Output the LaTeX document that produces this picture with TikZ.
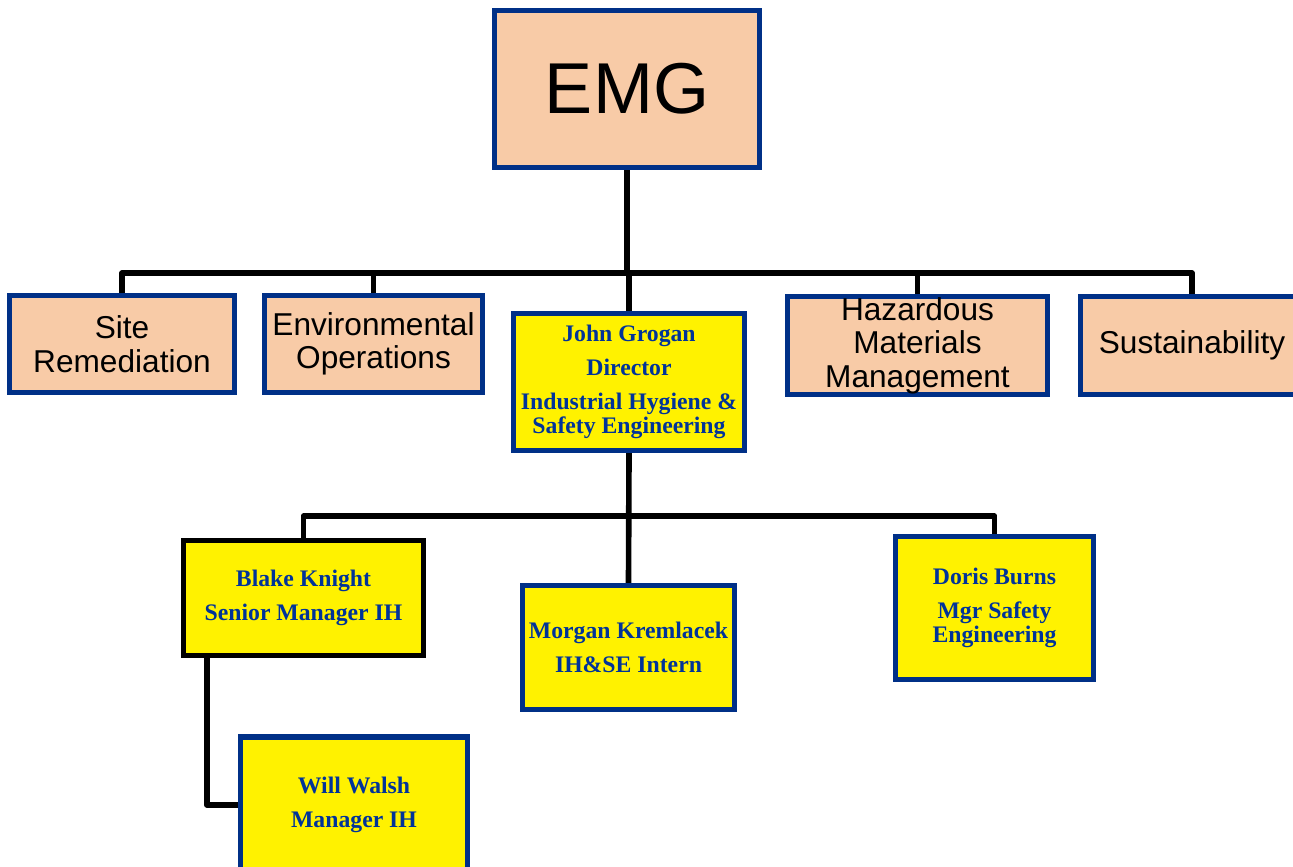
\documentclass[tikz,border=0pt]{standalone}
\usepackage{fontspec}
\setmainfont{Liberation Serif}
\newfontfamily\arialfont{Liberation Sans}
\definecolor{peach}{RGB}{248,203,167}
\definecolor{boxblue}{RGB}{0,48,135}
\definecolor{namblue}{RGB}{0,51,153}
\tikzset{
  unitbox/.style={draw=boxblue, line width=3pt, fill=peach, align=center, inner sep=0pt,
    font=\arialfont\fontsize{18}{19}\selectfont},
  staffbox/.style={draw=boxblue, line width=3pt, fill=yellow, align=center, inner sep=0pt,
    text=namblue, font=\bfseries\fontsize{13.5}{13.6}\selectfont},
  link/.style={line width=3.2pt, line join=round}
}
\begin{document}
\begin{tikzpicture}[x=0.02cm, y=-0.02cm]
\useasboundingbox (0,0) rectangle (1293,866);

% Top level and departments
\node[unitbox, minimum width=5.3cm, minimum height=3.14cm, font=\arialfont\fontsize{41}{44}\selectfont] (emg) at (627,89) {EMG};
\node[unitbox, minimum width=4.5cm, minimum height=1.94cm] (site) at (122,344) {Site\\Remediation};
\node[unitbox, minimum width=4.36cm, minimum height=1.94cm] (env) at (373.5,344) {Environmental\\Operations};
\node[staffbox, minimum width=4.62cm, minimum height=2.74cm] (john) at (629,382) {John Grogan\\[5.7pt]Director\\[5.7pt]Industrial Hygiene \&\\Safety Engineering};
\node[unitbox, minimum width=5.2cm, minimum height=1.96cm] (haz) at (917.5,345.5) {Hazardous\\Materials\\Management};
\node[unitbox, minimum width=4.46cm, minimum height=1.96cm] (sust) at (1192,345.5) {Sustainability};

% Staff under the director
\node[staffbox, draw=black, minimum width=4.8cm, minimum height=2.3cm] (blake) at (303.5,598) {Blake Knight\\[5.7pt]Senior Manager IH};
\node[staffbox, minimum width=4.24cm, minimum height=2.48cm] (morgan) at (628.5,647.5) {Morgan Kremlacek\\[5.7pt]IH\&SE Intern};
\node[staffbox, minimum width=3.96cm, minimum height=2.86cm] (doris) at (994.5,608) {Doris Burns\\[5.7pt]Mgr Safety\\Engineering};
\node[staffbox, minimum width=4.54cm, minimum height=2.72cm] (will) at (354,805) {Will Walsh\\[5.7pt]Manager IH};

% Connectors
\coordinate (topbus) at (627,273);
\coordinate (midbus) at (629,516);
\draw[link] (emg.south) -- (topbus);
\draw[link] (site.north) |- (topbus) -| (sust.north);
\draw[link] (env.north) -- (env.north |- topbus);
\draw[link] (haz.north) -- (haz.north |- topbus);
\draw[link] (john.north) -- (john.north |- topbus);
\draw[link] (john.south) -- (morgan.north);
\draw[link] (blake.north) |- (midbus) -| (doris.north);
\draw[link] ([xshift=0.52cm]blake.south west) |- (will.west);
\end{tikzpicture}
\end{document}
